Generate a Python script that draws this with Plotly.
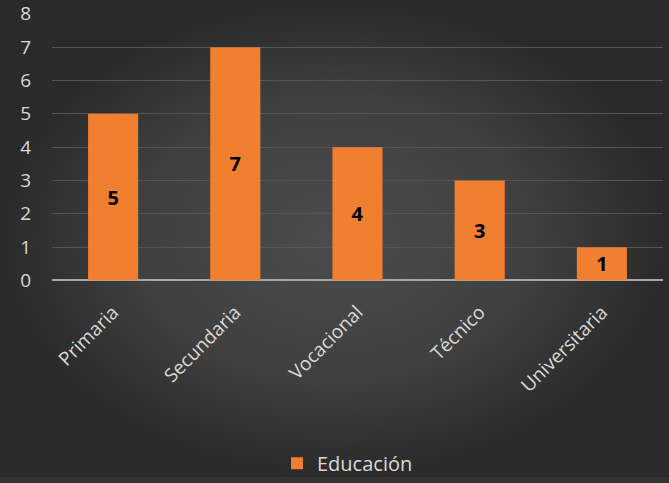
import plotly.graph_objects as go

categories = ["Primaria", "Secundaria", "Vocacional", "Técnico", "Universitaria"]
values = [5, 7, 4, 3, 1]
series_name = "Educación"
y_ticks = [0, 1, 2, 3, 4, 5, 6, 7, 8]

W, H = 669, 483
FONT = "Open Sans"

fig = go.Figure()

# decorative radial background spanning the whole page
fig.add_trace(go.Scatter(
    x=[0, 1, 1, 0, 0], y=[0, 0, 1, 1, 0],
    fill="toself", mode="lines", line=dict(width=0),
    fillgradient=dict(type="radial",
                      colorscale=[[0, "#4c4c4c"], [0.6, "#3f3f3f"], [1, "#2a2a2a"]]),
    hoverinfo="skip", showlegend=False, xaxis="x", yaxis="y",
))

fig.add_trace(go.Bar(
    x=categories, y=values, name=series_name,
    xaxis="x2", yaxis="y2",
    marker=dict(color="#f07f30", line=dict(width=0)),
    width=0.41,
    text=values, textposition="inside", insidetextanchor="middle",
    textangle=0,
    textfont=dict(color="black", size=20, family=FONT, weight="bold"),
))

fig.update_layout(
    width=W, height=H,
    margin=dict(l=0, r=0, t=0, b=0),
    paper_bgcolor="#333333",
    plot_bgcolor="rgba(0,0,0,0)",
    font=dict(family=FONT, color="#d9d9d9"),
    xaxis=dict(domain=[0, 1], range=[0, 1], visible=False, fixedrange=True),
    yaxis=dict(domain=[0, 1], range=[0, 1], visible=False, fixedrange=True),
    xaxis2=dict(
        domain=[52 / W, 663 / W], anchor="y2",
        tickangle=-45, tickfont=dict(size=19, color="#d9d9d9", family=FONT),
        showgrid=False, showline=False, ticks="", automargin=False,
        ticklabelstandoff=16,
    ),
    yaxis2=dict(
        domain=[(H - 284) / H, (H - 14) / H], anchor="x2",
        range=[0, 8], tickvals=y_ticks,
        tickfont=dict(size=19, color="#d9d9d9", family=FONT),
        gridcolor="#555555", gridwidth=1,
        zeroline=True, zerolinecolor="#a6a6a6", zerolinewidth=2,
        showline=False, ticks="", ticklabelstandoff=20, automargin=False,
    ),
    showlegend=True,
    legend=dict(orientation="h", x=277 / W, xanchor="left", y=14 / H, yanchor="middle",
                font=dict(size=20, color="#d9d9d9", family=FONT),
                bgcolor="rgba(0,0,0,0)", itemwidth=30),
    bargap=0.59,
)

fig.write_html("out.html", config={"displayModeBar": False},
               post_script="document.body.style.margin='0';")
